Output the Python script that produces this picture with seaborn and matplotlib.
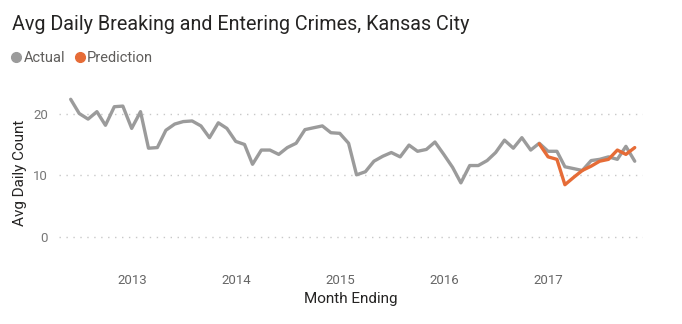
import matplotlib
matplotlib.use("Agg")
import matplotlib.pyplot as plt
from matplotlib.lines import Line2D
import numpy as np
import pandas as pd
import seaborn as sns

# ---- data ----
start_month = "2012-05-31"
actual = [22.3, 20.0, 19.1, 20.3, 18.1, 21.1, 21.2, 17.6, 20.3, 14.4,
          14.5, 17.3, 18.3, 18.7, 18.8, 18.0, 16.1, 18.5, 17.6, 15.5,
          15.0, 11.8, 14.1, 14.1, 13.4, 14.5, 15.2, 17.4, 17.7, 18.0,
          16.9, 16.8, 15.2, 10.1, 10.6, 12.3, 13.1, 13.7, 13.0, 14.9,
          13.9, 14.2, 15.4, 13.4, 11.3, 8.8, 11.6, 11.6, 12.4, 13.7,
          15.7, 14.4, 16.1, 14.1, 15.2, 13.9, 13.9, 11.4, 11.1, 10.8,
          12.4, 12.6, 13.0, 12.6, 14.7, 12.3]
prediction_start = "2016-11-30"
prediction = [15.1, 13.0, 12.6, 8.5, 9.7, 10.8, 11.5, 12.3, 12.6, 14.1, 13.4, 14.5]
series_names = ["Actual", "Prediction"]
y_ticks = [0, 10, 20]
x_years = [2013, 2014, 2015, 2016, 2017]
title = "Avg Daily Breaking and Entering Crimes, Kansas City"
x_label = "Month Ending"
y_label = "Avg Daily Count"

# ---- build table ----
act_dates = pd.date_range(start_month, periods=len(actual), freq="ME")
pred_dates = pd.date_range(prediction_start, periods=len(prediction), freq="ME")
df = pd.concat([
    pd.DataFrame({"Month Ending": act_dates, "value": actual, "series": series_names[0]}),
    pd.DataFrame({"Month Ending": pred_dates, "value": prediction, "series": series_names[1]}),
], ignore_index=True)

colors = {"Actual": "#9b9b9b", "Prediction": "#e66c37"}

sns.set_theme(style="white")
plt.rcParams["font.family"] = ["Roboto", "DejaVu Sans"]

fig = plt.figure(figsize=(6.82, 3.24), dpi=100)
ax = fig.add_axes([59 / 682, 1 - 255 / 324, (643 - 59) / 682, (255 - 90) / 324])

sns.lineplot(data=df, x="Month Ending", y="value", hue="series", palette=colors,
             linewidth=2.4, ax=ax, legend=False, estimator=None, sort=True)

# axes styling
ax.set_ylim(-2.85, 23.8)
ax.set_xlim(act_dates[0] - pd.Timedelta(days=41), act_dates[-1] + pd.Timedelta(days=29))
ax.set_yticks(y_ticks)
ax.set_yticklabels([str(v) for v in y_ticks], color="#777777", fontsize=9.5)
ax.set_xticks([pd.Timestamp(f"{y}-01-01") for y in x_years])
ax.set_xticklabels([str(y) for y in x_years], color="#666666", fontsize=9.5)
ax.tick_params(axis="both", length=0)
ax.tick_params(axis="y", pad=8)
ax.tick_params(axis="x", pad=14)
for s in ax.spines.values():
    s.set_visible(False)
ax.grid(axis="y", color="#c8c8c8", linestyle=(0, (1, 4)), linewidth=1.0)
ax.grid(axis="x", visible=False)

ax.set_xlabel(x_label, fontsize=11, color="#252423", labelpad=3)
ax.set_ylabel(y_label, fontsize=11, color="#252423", labelpad=4)

# title
fig.text(12 / 682, 1 - 25 / 324, title, fontsize=14.2, color="#252423", ha="left", va="center")

# legend
handles = [Line2D([], [], marker="o", linestyle="none", markersize=7,
                  markerfacecolor=colors[n], markeredgecolor=colors[n]) for n in series_names]
leg = fig.legend(handles, series_names, loc="center left",
                 bbox_to_anchor=(12 / 682, 1 - 58 / 324), bbox_transform=fig.transFigure,
                 ncol=2, frameon=False, fontsize=10.5, handlelength=0.6, handletextpad=0.2,
                 columnspacing=0.7, borderpad=0, borderaxespad=0)
for t in leg.get_texts():
    t.set_color("#605e5c")

fig.savefig("out.png", dpi=100)
